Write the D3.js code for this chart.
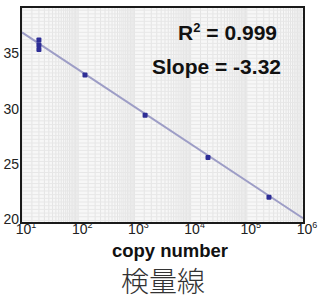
<!DOCTYPE html>
<html>
<head>
<meta charset="utf-8">
<script src="https://cdn.jsdelivr.net/npm/d3@7"></script>
<style>
  body { margin: 0; background: #fff; }
  svg { display: block; }
</style>
</head>
<body>
<svg id="chart" width="325" height="298"></svg>
<script>
// standard curve points
var copies = [20, 20, 20, 132, 1550, 20400, 248000];
var ctValues = [36.3, 35.85, 35.45, 33.15, 29.5, 25.7, 22.1];

// fitted line end points
var fitX = [10, 1e6];
var fitY = [37.0, 20.2];

var yTicks = [20, 25, 30, 35];
var xTicks = [1e1, 1e2, 1e3, 1e4, 1e5, 1e6];
var xTitle = "copy number";
var chartTitle = "検量線";
var statLines = ["R2 = 0.999", "Slope = -3.32"];

var svg = d3.select("#chart");
var plotLeft = 22, plotRight = 303, plotTop = 8, plotBottom = 222;

var x = d3.scaleLog().domain([10, 1e6]).range([plotLeft, plotRight]);
var y = d3.scaleLinear().domain([19.86, 39.2]).range([plotBottom, plotTop]);

// plot background
svg.append("rect").attr("x", plotLeft).attr("y", plotTop)
    .attr("width", plotRight - plotLeft).attr("height", plotBottom - plotTop)
    .style("fill", "#f7f7f7");

// dense vertical grid (log minor lines)
var vLines = [];
for (var e = 1; e < 6; e++) {
    for (var k = 1; k < 10; k += 0.5) {
        vLines.push(k * Math.pow(10, e));
    }
}
svg.append("g").selectAll("line").data(vLines).enter().append("line")
    .attr("x1", function(d) { return x(d); })
    .attr("x2", function(d) { return x(d); })
    .attr("y1", plotTop).attr("y2", plotBottom)
    .style("stroke", "#e4e4e4").style("stroke-width", 1);

// horizontal grid
var hLines = d3.range(20, 39.2, 1 / 3);
svg.append("g").selectAll("line").data(hLines).enter().append("line")
    .attr("x1", plotLeft).attr("x2", plotRight)
    .attr("y1", function(d) { return y(d); })
    .attr("y2", function(d) { return y(d); })
    .style("stroke", "#e7e7e7").style("stroke-width", 1);

// fit line
svg.append("line")
    .attr("x1", x(fitX[0])).attr("y1", y(fitY[0]))
    .attr("x2", x(fitX[1])).attr("y2", y(fitY[1]))
    .style("stroke", "#9d9dc6").style("stroke-width", 2);

// points
svg.append("g").selectAll("rect").data(copies).enter().append("rect")
    .attr("x", function(d) { return x(d) - 2.5; })
    .attr("y", function(d, i) { return y(ctValues[i]) - 2.5; })
    .attr("width", 5).attr("height", 5).attr("rx", 1)
    .style("fill", "#2d2d96");

// frame
svg.append("rect").attr("x", plotLeft - 1).attr("y", plotTop - 1)
    .attr("width", plotRight - plotLeft + 2).attr("height", plotBottom - plotTop + 2)
    .style("fill", "none").style("stroke", "#1a1a1a").style("stroke-width", 2);

var font = "'Liberation Sans', Arial, sans-serif";

// y tick labels
svg.append("g").selectAll("text").data(yTicks).enter().append("text")
    .attr("x", 19).attr("y", function(d) { return y(d) + 4; })
    .attr("text-anchor", "end")
    .style("font-family", font).style("font-size", "14px").style("fill", "#222")
    .text(function(d) { return d; });

// x tick labels with superscript exponents
var xl = svg.append("g").selectAll("text").data(xTicks).enter().append("text")
    .attr("x", function(d) { return x(d) + 4; })
    .attr("y", 234)
    .attr("text-anchor", "middle")
    .style("font-family", font).style("font-size", "14px").style("fill", "#222");
xl.append("tspan").text("10");
xl.append("tspan").attr("dy", -6).style("font-size", "9px")
    .text(function(d) { return Math.round(Math.log10(d)); });

// axis title
svg.append("text").attr("x", 170).attr("y", 257)
    .attr("text-anchor", "middle")
    .style("font-family", font).style("font-size", "18.5px").style("font-weight", "bold")
    .style("fill", "#111")
    .text(xTitle);

// chart title
svg.append("text").attr("x", 163).attr("y", 292)
    .attr("text-anchor", "middle")
    .style("font-family", "'Noto Sans CJK JP', sans-serif").style("font-size", "28px")
    .style("font-weight", 300).style("fill", "#333")
    .text(chartTitle);

// statistics
var r2 = svg.append("text").attr("x", 277).attr("y", 40)
    .attr("text-anchor", "end")
    .style("font-family", font).style("font-size", "21px").style("font-weight", "bold")
    .style("fill", "#111");
r2.append("tspan").text("R");
r2.append("tspan").attr("dy", -8).style("font-size", "13px").text("2");
r2.append("tspan").attr("dy", 8).text(" = 0.999");

svg.append("text").attr("x", 281).attr("y", 74)
    .attr("text-anchor", "end")
    .style("font-family", font).style("font-size", "21px").style("font-weight", "bold")
    .style("fill", "#111")
    .text(statLines[1]);
</script>
</body>
</html>
